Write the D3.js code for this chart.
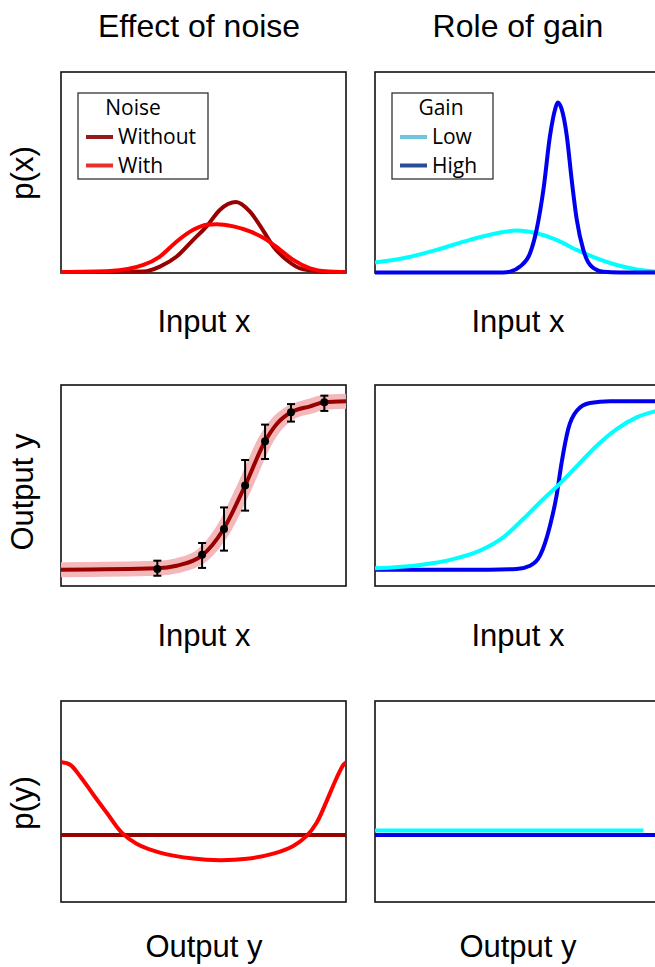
<html>
<head>
	<meta http-equiv="Content-Type" content="text/html;charset=UTF-8">
	<title>Noise and gain</title>
    <style type="text/css">
        *{margin: 0;padding: 0;}
        body{background: #fff;}
        svg{display: block;}
    </style>
</head>
<body>
    <div class="container"></div>
	<script type="text/javascript" src="https://cdn.jsdelivr.net/npm/d3@7/dist/d3.min.js"></script>

	<script>
        // ---- data (x and y both 0..100 of the panel) ----
        // row 1, left: p(x) without / with noise
        var pxWithoutX = [0, 15, 28.9, 34.7, 40.6, 46.4, 51.1, 55.8, 61.4, 66.3, 71.0, 74.5, 79.2, 85.0, 93.2, 100];
        var pxWithoutY = [0.5, 0.5, 0.7, 3.2, 8.2, 16.5, 23.2, 31.5, 35.3, 30.5, 21.0, 13.2, 6.5, 1.8, 0.6, 0.5];
        var pxWithX = [0, 17.2, 28.9, 34.7, 40.6, 46.4, 51.1, 54.6, 60.5, 66.3, 72.2, 76.9, 81.5, 87.4, 93.2, 100];
        var pxWithY = [0.5, 1.0, 4.0, 8.2, 15.7, 21.5, 24.0, 24.3, 23.2, 20.7, 16.5, 11.5, 6.5, 2.3, 0.8, 0.5];

        // row 1, right: p(x) low / high gain
        var pxLowX = [0, 9.9, 21.6, 33.3, 42.7, 49.7, 56.7, 63.7, 70.8, 77.8, 84.8, 91.8, 100];
        var pxLowY = [5.2, 7.3, 11.5, 16.5, 19.8, 21.2, 19.8, 16.5, 11.5, 7.3, 4.0, 1.8, 0.5];
        var pxHighX = [0, 45.0, 47.4, 50.9, 54.4, 56.7, 59.1, 61.4, 63.2, 64.1, 65.5, 67.3, 69.0, 70.8, 73.1, 76.0, 80.1, 86.0, 100];
        var pxHighY = [0.3, 0.3, 0.7, 3.2, 9.8, 21.5, 41.5, 68.2, 81.5, 84.8, 81.5, 68.2, 46.5, 26.5, 11.5, 3.2, 0.6, 0.3, 0.3];

        // row 2, left: response curve with measured points
        var ioNoiseX = [0, 33.6, 40.6, 49.4, 56.9, 64.6, 71.6, 75.7, 80.7, 87.4, 92.4, 100];
        var ioNoiseY = [8.1, 8.8, 10.1, 15.1, 28.0, 50.0, 72.0, 80.6, 86.4, 89.4, 91.4, 91.9];
        var ptX = [33.8, 49.5, 57.2, 64.6, 71.6, 80.7, 92.4];
        var ptY = [8.5, 15.5, 28.4, 50.0, 72.0, 86.4, 91.4];
        var ptLo = [5.1, 9.0, 17.6, 37.5, 63.2, 81.8, 87.1];
        var ptHi = [12.6, 21.4, 39.1, 62.7, 80.3, 90.5, 94.7];

        // row 2, right: response curves low / high gain
        var ioLowX = [0, 15.8, 27.5, 36.8, 45.0, 52.0, 59.1, 64.2, 70.8, 77.8, 84.8, 91.8, 98.2, 100];
        var ioLowY = [8.8, 10.5, 13.4, 17.6, 24.2, 33.3, 43.3, 50.0, 59.6, 69.8, 78.1, 83.9, 86.9, 87.5];
        var ioHighX = [0, 33.3, 49.7, 54.4, 57.9, 61.4, 63.7, 65.5, 67.8, 70.8, 75.4, 82.5, 100];
        var ioHighY = [8.1, 8.1, 8.5, 10.1, 15.1, 30.0, 44.9, 61.5, 78.1, 87.2, 91.0, 91.9, 91.9];

        // row 3, left: p(y)
        var pyWithoutX = [0, 100];
        var pyWithoutY = [33.3, 33.3];
        var pyWithX = [0.2, 3.2, 6.7, 11.3, 16.0, 21.3, 26.5, 34.7, 46.4, 55.8, 65.2, 74.5, 81.5, 86.2, 89.7, 93.2, 96.7, 99.1, 100];
        var pyWithY = [69.5, 68.3, 62.6, 53.5, 44.5, 34.5, 29.0, 24.6, 21.6, 20.8, 21.5, 24.1, 27.9, 32.9, 39.4, 50.2, 61.7, 68.3, 69.5];

        // row 3, right: p(y) low / high gain
        var pyLowX = [0, 94.2];
        var pyLowY = [35.6, 35.6];
        var pyHighX = [0, 100];
        var pyHighY = [33.3, 33.3];

        var colTitles = ["Effect of noise", "Role of gain"];
        var rowLabels = ["p(x)", "Output y", "p(y)"];
        var xLabels = ["Input x", "Input x", "Output y"];
        var noiseLegend = ["Without", "With"];
        var gainLegend = ["Low", "High"];

        // ---- layout ----
        var width = 655, height = 967;
        var panelW = 285, panelH = 201;
        var colLeft = [61, 375];
        var rowTop = [72, 385, 701];
        var titleX = [199, 518];
        var labelX = [204, 518];
        var labelBase = [332, 646, 957];
        var rowMid = [173, 492, 803];

        var darkRed = "#990000", red = "#ff0000", cyan = "#00ffff", blue = "#0000ee";

        var svg = d3.select(".container")
            .append("svg")
            .attr("width", width)
            .attr("height", height);

        var x = d3.scaleLinear().domain([0, 100]).range([0, panelW]);
        var y = d3.scaleLinear().domain([0, 100]).range([panelH, 0]);

        svg.append("clipPath").attr("id", "clip")
            .append("rect")
            .attr("x", 0).attr("y", -10)
            .attr("width", panelW).attr("height", panelH + 20);

        // one panel = frame + clipped group for the curves
        function panel(col, row) {
            var g = svg.append("g")
                .attr("transform", "translate(" + colLeft[col] + "," + rowTop[row] + ")");
            g.append("rect")
                .attr("width", panelW).attr("height", panelH)
                .attr("fill", "none")
                .attr("stroke", "#111")
                .attr("stroke-width", 1.6);
            return g.append("g").attr("clip-path", "url(#clip)");
        }

        function curve(g, xs, ys, color, w, kind) {
            var line = d3.line()
                .x(function (d) { return x(d[0]); })
                .y(function (d) { return y(d[1]); })
                .curve(kind || d3.curveMonotoneX);
            g.append("path")
                .datum(d3.zip(xs, ys))
                .attr("d", line)
                .attr("fill", "none")
                .attr("stroke", color)
                .attr("stroke-width", w || 4)
                .attr("stroke-linejoin", "round");
        }

        function legend(col, title, names, colors) {
            var lx = col == 0 ? 78 : 392;
            var bw = col == 0 ? 130 : 101;
            var g = svg.append("g").attr("transform", "translate(" + lx + ",93)");
            g.append("rect")
                .attr("width", bw).attr("height", 86)
                .attr("fill", "#fff").attr("stroke", "#222").attr("stroke-width", 1.2);
            g.append("text")
                .attr("x", col == 0 ? 55 : 49).attr("y", 22)
                .attr("text-anchor", "middle")
                .attr("font-family", "Open Sans")
                .attr("font-size", 21)
                .text(title);
            names.forEach(function (n, i) {
                g.append("line")
                    .attr("x1", 8).attr("x2", 35)
                    .attr("y1", 44 + i * 28.5).attr("y2", 44 + i * 28.5)
                    .attr("stroke", colors[i]).attr("stroke-width", 4);
                g.append("text")
                    .attr("x", 40).attr("y", 50.5 + i * 29.5)
                    .attr("font-family", "Open Sans")
                    .attr("font-size", 21)
                    .text(n);
            });
        }

        // row 1
        var p = panel(0, 0);
        curve(p, pxWithoutX, pxWithoutY, darkRed);
        curve(p, pxWithX, pxWithY, red);
        p = panel(1, 0);
        curve(p, pxLowX, pxLowY, cyan);
        curve(p, pxHighX, pxHighY, blue);

        // row 2
        p = panel(0, 1);
        curve(p, ioNoiseX, ioNoiseY, "#f4b8ba", 15);
        curve(p, ioNoiseX, ioNoiseY, darkRed, 4);
        var pts = d3.range(ptX.length);
        p.selectAll(".bar").data(pts).enter().append("line")
            .attr("x1", function (i) { return x(ptX[i]); })
            .attr("x2", function (i) { return x(ptX[i]); })
            .attr("y1", function (i) { return y(ptLo[i]); })
            .attr("y2", function (i) { return y(ptHi[i]); })
            .attr("stroke", "#000").attr("stroke-width", 2);
        [ptLo, ptHi].forEach(function (arr) {
            p.selectAll(null).data(pts).enter().append("line")
                .attr("x1", function (i) { return x(ptX[i]) - 4; })
                .attr("x2", function (i) { return x(ptX[i]) + 4; })
                .attr("y1", function (i) { return y(arr[i]); })
                .attr("y2", function (i) { return y(arr[i]); })
                .attr("stroke", "#000").attr("stroke-width", 2);
        });
        p.selectAll("circle").data(pts).enter().append("circle")
            .attr("cx", function (i) { return x(ptX[i]); })
            .attr("cy", function (i) { return y(ptY[i]); })
            .attr("r", 4)
            .attr("fill", "#000");
        p = panel(1, 1);
        curve(p, ioHighX, ioHighY, blue);
        curve(p, ioLowX, ioLowY, cyan);

        // row 3
        p = panel(0, 2);
        curve(p, pyWithoutX, pyWithoutY, darkRed);
        curve(p, pyWithX, pyWithY, red, 4, d3.curveCatmullRom);
        p = panel(1, 2);
        curve(p, pyLowX, pyLowY, cyan);
        curve(p, pyHighX, pyHighY, blue);

        legend(0, "Noise", noiseLegend, ["#941b1b", "#e8302a"]);
        legend(1, "Gain", gainLegend, ["#6ec6dc", "#2a4a9a"]);

        // titles and labels
        svg.selectAll(".title").data(colTitles).enter().append("text")
            .attr("x", function (d, i) { return titleX[i]; })
            .attr("y", 37)
            .attr("text-anchor", "middle")
            .attr("font-family", "Liberation Sans")
            .attr("font-size", 32)
            .text(function (d) { return d; });

        rowLabels.forEach(function (d, r) {
            svg.append("text")
                .attr("transform", "translate(33," + rowMid[r] + ") rotate(-90)")
                .attr("text-anchor", "middle")
                .attr("font-family", "Liberation Sans")
                .attr("font-size", 31)
                .text(d);
            for (var c = 0; c < 2; c++) {
                svg.append("text")
                    .attr("x", labelX[c]).attr("y", labelBase[r])
                    .attr("text-anchor", "middle")
                    .attr("font-family", "Liberation Sans")
                    .attr("font-size", 31)
                    .text(xLabels[r]);
            }
        });
    </script>
</body>
</html>
